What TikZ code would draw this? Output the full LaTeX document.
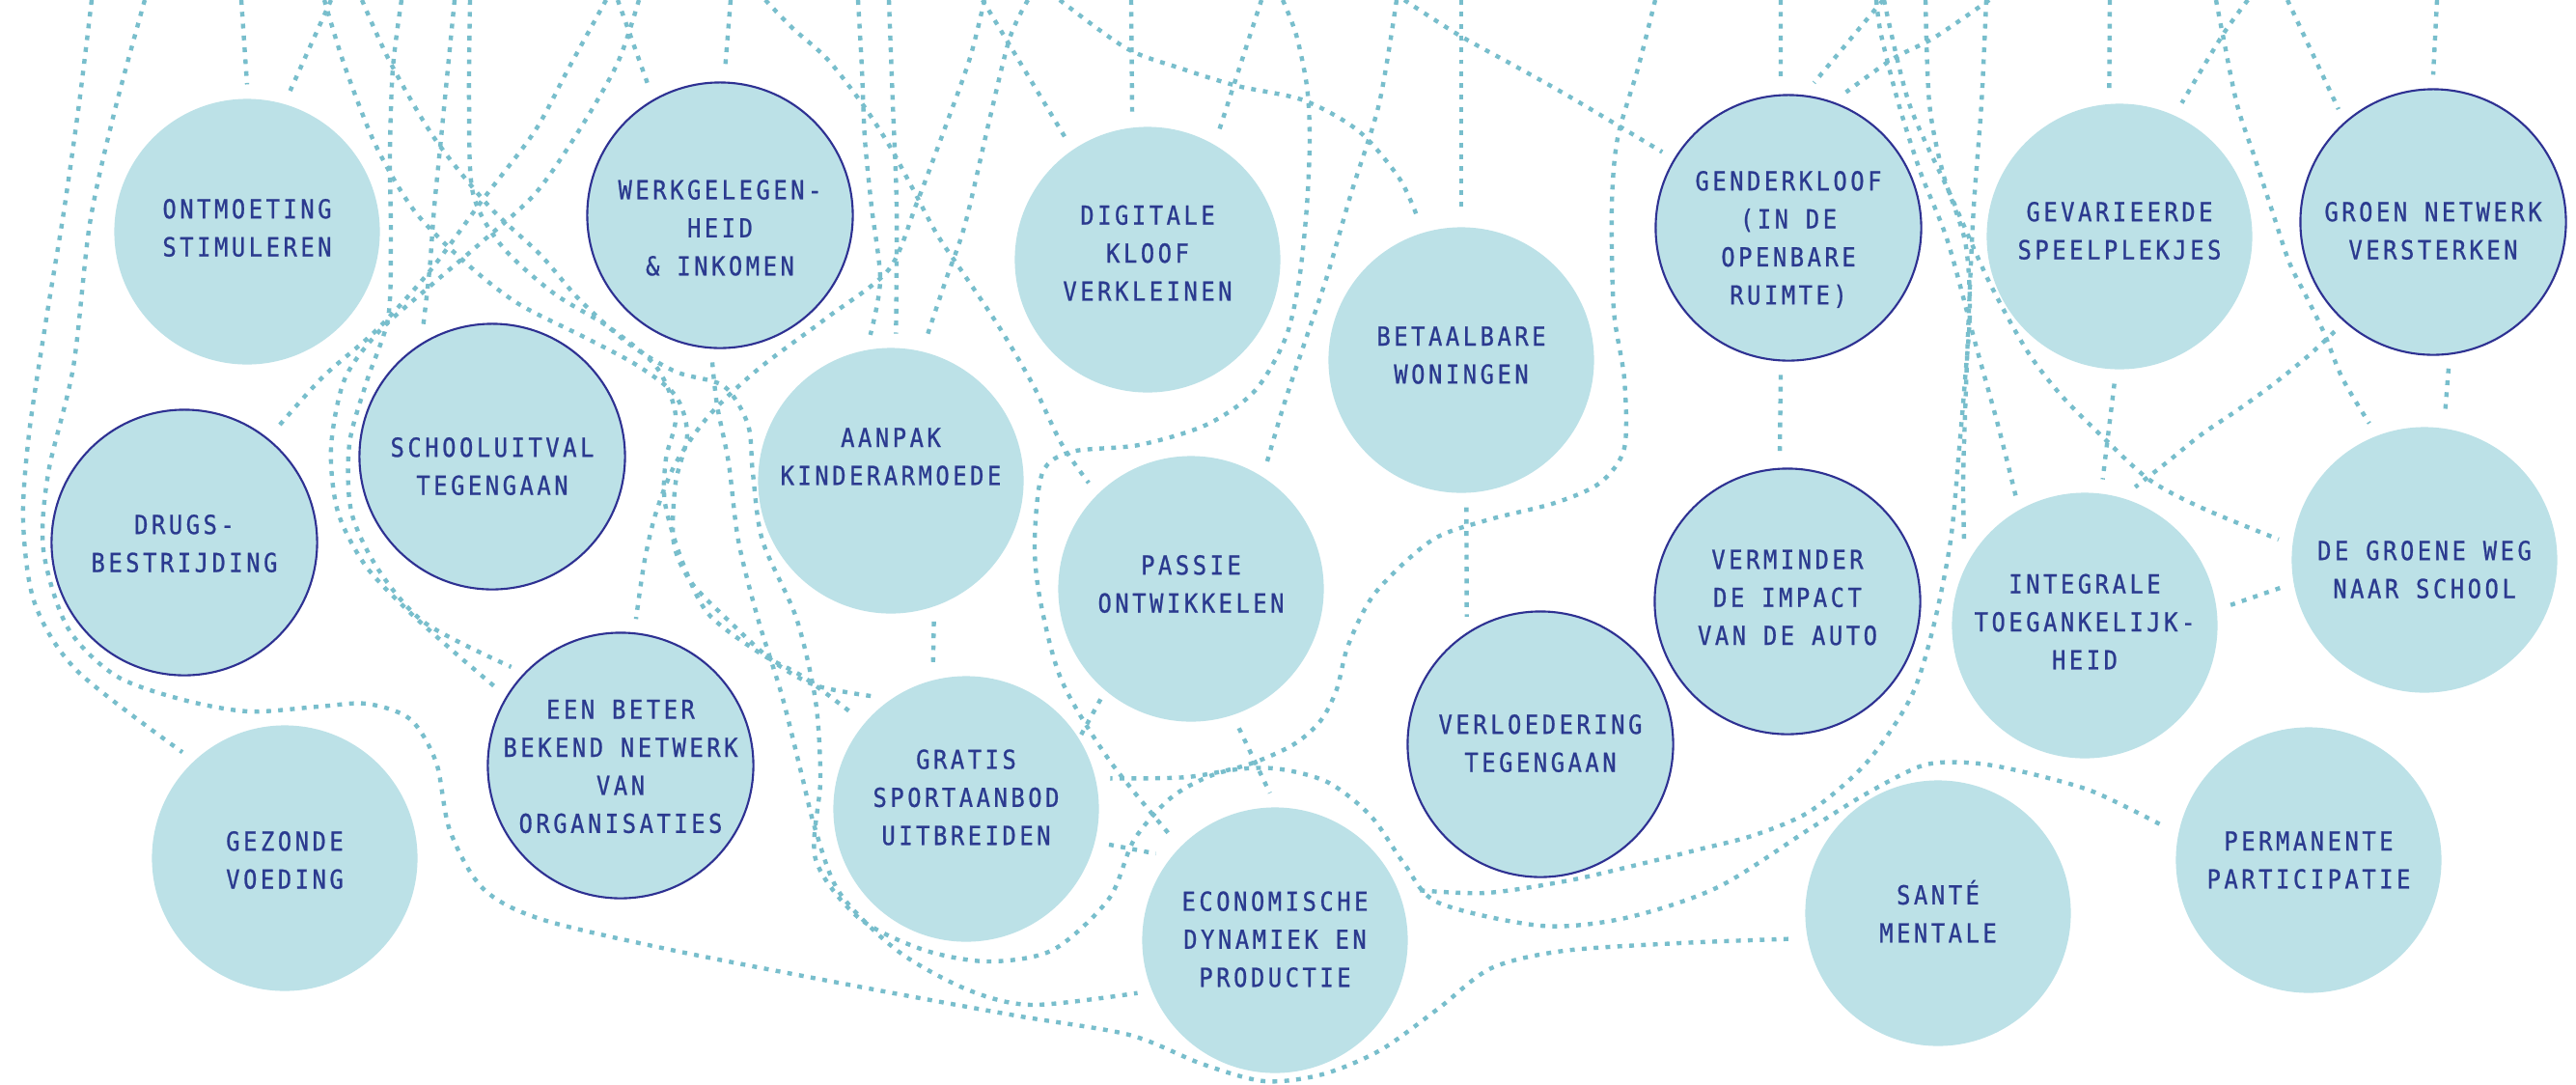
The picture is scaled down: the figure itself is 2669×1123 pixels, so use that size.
\documentclass[tikz,border=0pt]{standalone}
\usepackage{fontspec}
\usetikzlibrary{backgrounds}
\newfontfamily\bubfont[LetterSpace=13,FakeStretch=0.88,FakeBold=0.8]{DejaVu Sans Mono}
\definecolor{bubfill}{HTML}{BCE1E7}
\definecolor{dotc}{HTML}{78BECC}
\definecolor{ringc}{HTML}{2E3192}
\definecolor{txtc}{HTML}{2B3A8F}
\tikzset{
  bub/.style={circle, fill=bubfill, minimum size=2.75cm, inner sep=0pt, outer sep=0.15cm},
  ring/.style={bub, draw=ringc, line width=0.6pt},
  txt/.style={text=txtc, align=center, inner sep=0pt,
    font=\bubfont\fontsize{7.7}{11.2}\selectfont},
  link/.style={dotc, line width=1.25pt, dash pattern=on 1.4pt off 2.1pt},
}
\begin{document}
\begin{tikzpicture}[x=0.01cm, y=-0.01cm]
\useasboundingbox (0,0) rectangle (2669,1123);

\node[bub]  (ont)       at (256,240)  {};
\node[ring] (werk)      at (746,223)  {};
\node[bub]  (digi)      at (1189,269) {};
\node[bub]  (betaal)    at (1514,373) {};
\node[ring] (gender)    at (1853,236) {};
\node[bub]  (gevar)     at (2196,245) {};
\node[ring] (groen)     at (2521,230) {};
\node[ring] (drugs)     at (191,562)  {};
\node[ring] (school)    at (510,473)  {};
\node[bub]  (aanpak)    at (923,498)  {};
\node[bub]  (passie)    at (1234,610) {};
\node[ring] (vermin)    at (1852,623) {};
\node[bub]  (integ)     at (2160,648) {};
\node[bub]  (groeneweg) at (2512,580) {};
\node[bub]  (gezond)    at (295,889)  {};
\node[ring] (netwerk)   at (643,793)  {};
\node[bub]  (gratis)    at (1001,838) {};
\node[ring] (verloed)   at (1596,771) {};
\node[bub]  (econ)      at (1321,974) {};
\node[bub]  (sante)     at (2008,946) {};
\node[bub]  (perm)      at (2392,891) {};

\node[txt] (ont-t)       at (256,236)  {ONTMOETING\\STIMULEREN};
\node[txt] (werk-t)      at (746,236)  {WERKGELEGEN-\\HEID\\\& INKOMEN};
\node[txt] (digi-t)      at (1189,262) {DIGITALE\\KLOOF\\VERKLEINEN};
\node[txt] (betaal-t)    at (1514,368) {BETAALBARE\\WONINGEN};
\node[txt] (gender-t)    at (1853,248) {GENDERKLOOF\\(IN DE\\OPENBARE\\RUIMTE)};
\node[txt] (gevar-t)     at (2196,239) {GEVARIEERDE\\SPEELPLEKJES};
\node[txt] (groen-t)     at (2521,239) {GROEN NETWERK\\VERSTERKEN};
\node[txt] (drugs-t)     at (191,563)  {DRUGS-\\BESTRIJDING};
\node[txt] (school-t)    at (510,483)  {SCHOOLUITVAL\\TEGENGAAN};
\node[txt] (aanpak-t)    at (923,473)  {AANPAK\\KINDERARMOEDE};
\node[txt] (passie-t)    at (1234,605) {PASSIE\\ONTWIKKELEN};
\node[txt] (vermin-t)    at (1852,619) {VERMINDER\\DE IMPACT\\VAN DE AUTO};
\node[txt] (integ-t)     at (2160,644) {INTEGRALE\\TOEGANKELIJK-\\HEID};
\node[txt] (groeneweg-t) at (2512,590) {DE GROENE WEG\\NAAR SCHOOL};
\node[txt] (gezond-t)    at (295,891)  {GEZONDE\\VOEDING};
\node[txt] (netwerk-t)   at (643,794)  {EEN BETER\\BEKEND NETWERK\\VAN\\ORGANISATIES};
\node[txt] (gratis-t)    at (1001,826) {GRATIS\\SPORTAANBOD\\UITBREIDEN};
\node[txt] (verloed-t)   at (1596,770) {VERLOEDERING\\TEGENGAAN};
\node[txt] (econ-t)      at (1321,973) {ECONOMISCHE\\DYNAMIEK EN\\PRODUCTIE};
\node[txt] (sante-t)     at (2008,944) {SANTÉ\\MENTALE};
\node[txt] (perm-t)      at (2392,891) {PERMANENTE\\PARTICIPATIE};

\foreach \n/\x in {1/95, 2/150, 3/250, 4/343, 5/628, 6/662, 7/416, 8/471, 9/487, 10/336,
    11/375, 13/1020, 14/1065, 15/921, 16/889, 17/793, 18/757, 19/640, 20/1018, 21/1172,
    22/1307, 23/1329, 24/1447, 25/1098, 26/1514, 27/1455, 28/1715, 29/1845, 30/1951,
    31/2061, 32/1995, 33/2058, 34/1944, 35/1952, 36/2186, 37/2329, 38/2370, 39/2525, 40/2296}
  \coordinate (top\n) at (\x,0);

\begin{pgfonlayer}{background}
\fill[white] (0,0) rectangle (2669,1123);
% left side
\draw[link] plot[smooth] coordinates {(top1) (82,107) (66,220) (48,330) (30,450) (24,540) (36,625) (80,695) (gezond.134)};
\draw[link] plot[smooth] coordinates {(top2) (118,118) (93,232) (76,380) (50,490) (45,570) (70,650) (120,700) (190,725) (258,737) (330,732) (380,729) (425,745) (452,790) (466,860) (500,920) (560,952) (700,985) (900,1024) (1052,1052) (1170,1072) (1245,1102) (1310,1120) (1370,1113) (1430,1088) (1490,1045) (1545,1003) (1620,985) (1740,977) (sante.190)};
\draw[link] (top3) -- (ont.90);
\draw[link] (top4) -- (ont.73);
\draw[link] plot[smooth] coordinates {(top5) (589,71) (554,136) (500,207) (446,280) (390,342) (335,390) (drugs.51)};
\draw[link] plot[smooth] coordinates {(top6) (640,65) (600,135) (555,200) (500,250) (446,296) (393,343) (357,393) (343,464) (350,530) (378,585) (420,630) (470,675) (netwerk.148)};
\draw[link] plot[smooth] coordinates {(top7) (407,71) (404,160) (405,250) (402,330) (380,395) (362,460) (364,530) (392,590) (440,645) (netwerk.138)};
\draw[link] plot[smooth] coordinates {(top8) (464,71) (457,143) (450,214) (445,280) (school.118)};
\draw[link] plot[smooth] coordinates {(top9) (486,107) (490,200) (520,255) (574,304) (631,339) (680,380) (700,430) (690,475) (689,521) (707,582) (734,636) (788,677) (832,701) (gratis.140)};
\draw[link] plot[smooth] coordinates {(top10) (357,68) (389,150) (429,218) (480,270) (536,314) (607,350) (661,379) (700,410) (712,450) (700,500) (698,562) (716,603) (756,644) (801,685) (845,710) (gratis.130)};
\draw[link] plot[smooth] coordinates {(top11) (404,64) (450,143) (507,214) (560,264) (600,310) (650,355) (700,385) (750,400) (775,440) (780,490) (790,560) (825,640) (845,726) (850,808) (845,890) (890,951) (957,984) (1024,996) (1091,984) (1149,931) (1175,870) (1215,825) (1265,800) (1320,796) (1375,810) (1420,845) (1455,895) (1490,935) (1597,959) (1684,951) (1780,919) (1876,858) (1934,822) (1992,793) (2038,790) (2085,797) (2166,819) (perm.167)};
\draw[link] plot[smooth] coordinates {(werk.267) (743,420) (755,480) (765,560) (785,640) (810,720) (830,800) (845,860) (870,925) (930,985) (1002,1025) (1069,1041) (econ.201)};
\draw[link] plot[smooth] coordinates {(top13) (1005,60) (980,130) (950,210) (921,279) (857,329) (786,382) (735,430) (700,480) (680,530) (668,580) (netwerk.84)};
\draw[link] plot[smooth] coordinates {(top14) (1046,40) (1025,125) (1000,232) (980,290) (aanpak.76)};
\draw[link] plot[smooth] coordinates {(top15) (925,107) (929,214) (aanpak.88)};
\draw[link] plot[smooth] coordinates {(top16) (893,71) (896,143) (903,214) (912,290) (aanpak.98)};
\draw[link] plot[smooth] coordinates {(top17) (821,29) (857,61) (893,107) (921,150) (946,196) (971,243) (1000,286) (1036,340) (1071,400) (1100,460) (passie.134)};
\draw[link] (top18) -- (werk.88);
\draw[link] (top19) -- (werk.119);
% middle
\draw[link] (top20) -- (digi.124);
\draw[link] (top21) -- (digi.96);
\draw[link] (top22) -- (digi.61);
\draw[link] plot[smooth] coordinates {(top23) (1343,36) (1354,89) (1357,143) (1354,214) (1346,290) (1332,350) (1300,405) (1250,440) (1180,461) (1110,468) (1080,490) (1072,562) (1078,623) (1100,705) (1149,787) (econ.135)};
\draw[link] plot[smooth] coordinates {(top24) (1429,107) (1400,200) (1375,286) (1350,360) (1330,420) (passie.59)};
\draw[link] plot[smooth] coordinates {(top25) (1167,50) (1224,71) (1282,89) (1351,104) (1408,136) (1450,185) (betaal.107)};
\draw[link] (top26) -- (betaal.90);
\draw[link] plot[smooth] coordinates {(top27) (1511,36) (1569,68) (1626,100) (gender.149)};
\draw[link] plot[smooth] coordinates {(top28) (1697,71) (1676,143) (1670,214) (1672,321) (1683,393) (1683,464) (1658,500) (1611,521) (1540,539) (1483,560) (1425,614) (1397,668) (1385,714) (1368,747) (1339,772) (1290,793) (1230,805) (gratis.12)};
\draw[link] (top29) -- (gender.93);
\draw[link] (top30) -- (gender.80);
\draw[link] plot[smooth] coordinates {(top31) (2004,39) (1961,61) (gender.67)};
% right side
\draw[link] plot[smooth] coordinates {(top32) (1999,107) (2013,179) (2036,250) (2041,321) (2036,393) (2030,464) (2021,560) (2003,650) (1980,722) (1934,790) (1876,840) (1818,865) (1760,880) (1700,895) (1626,912) (1540,925) (econ.20)};
\draw[link] plot[smooth] coordinates {(top33) (2053,107) (2045,214) (2040,321) (2036,429) (2034,500) (integ.145)};
\draw[link] plot[smooth] coordinates {(top34) (1949,36) (1967,107) (1990,179) (2018,250) (2047,357) (2070,440) (integ.118)};
\draw[link] plot[smooth] coordinates {(top35) (1978,107) (2020,200) (2060,290) (2100,363) (2136,410) (2180,454) (2227,497) (2281,526) (groeneweg.172)};
\draw[link] (top36) -- (gevar.94);
\draw[link] plot[smooth] coordinates {(top37) (2303,36) (gevar.65)};
\draw[link] (top38) -- (groen.130);
\draw[link] (top39) -- (groen.90);
\draw[link] plot[smooth] coordinates {(top40) (2303,36) (2318,109) (2336,163) (2354,218) (2372,272) (2390,308) (2408,345) (2427,392) (groeneweg.112)};
\draw[link] (gevar.268) -- (integ.83);
\draw[link] (groen.276) -- (groeneweg.82);
\draw[link] (gender.267) -- (vermin.93);
\draw[link] (betaal.272) -- (verloed.120);
\draw[link] (aanpak.287) -- (gratis.103);
\draw[link] (passie.289) -- (econ.92);
\draw[link] (integ.8) -- (groeneweg.191);
\draw[link] plot[smooth] coordinates {(groen.228) (2390,370) (2354,399) (2318,425) (2281,450) (2245,479) (integ.70)};
\draw[link, shorten <=-0.12cm, shorten >=-0.12cm] (gratis.35) -- (passie.231);
\draw[link] (gratis.346) -- (econ.144);
\end{pgfonlayer}
\end{tikzpicture}
\end{document}
